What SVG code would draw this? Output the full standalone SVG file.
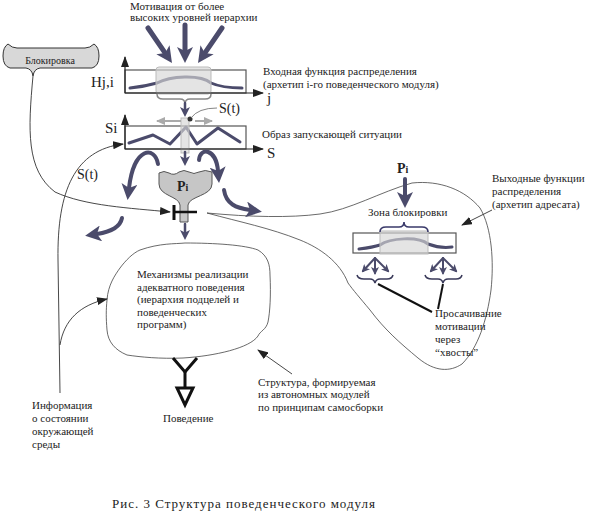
<svg xmlns="http://www.w3.org/2000/svg" width="589" height="513" viewBox="0 0 589 513" font-family="'Liberation Serif', 'Times New Roman', Times, 'DejaVu Serif', serif">
<style>
.t{font-family:'Liberation Serif','Times New Roman',Times,'DejaVu Serif',serif;font-size:11px;fill:#222}
.m{font-family:'Liberation Serif','Times New Roman',Times,'DejaVu Serif',serif;font-size:15px;fill:#222}
.box{fill:#fff;stroke:#555;stroke-width:1.2}
.shade{fill:#d6d6d6;fill-opacity:.65;stroke:#bbb;stroke-width:1}
.dk{fill:none;stroke:#4b4b6b;stroke-linecap:round}
.thin{fill:none;stroke:#333;stroke-width:0.9}
.blob{fill:none;stroke:#444;stroke-width:0.8}
.ax{fill:none;stroke:#222;stroke-width:1.2}
</style>
<defs>
<marker id="big" markerUnits="userSpaceOnUse" markerWidth="16" markerHeight="16" viewBox="0 0 16 16" refX="4" refY="8" orient="auto"><path d="M0,0 L16,8 L0,16 L4,8 z" fill="#4b4b6b"/></marker>
<marker id="med" markerUnits="userSpaceOnUse" markerWidth="10" markerHeight="10" viewBox="0 0 10 10" refX="3" refY="5" orient="auto"><path d="M0,0 L10,5 L0,10 L2.5,5 z" fill="#4b4b6b"/></marker>
<marker id="sm" markerUnits="userSpaceOnUse" markerWidth="8" markerHeight="8" viewBox="0 0 8 8" refX="6" refY="4" orient="auto"><path d="M0,0 L8,4 L0,8 L2,4 z" fill="#4b4b6b"/></marker>
<marker id="ax" markerUnits="userSpaceOnUse" markerWidth="11" markerHeight="8" viewBox="0 0 11 8" refX="10" refY="4" orient="auto"><path d="M0,0 L11,4 L0,8 z" fill="#222"/></marker>
<marker id="gr" markerUnits="userSpaceOnUse" markerWidth="9" markerHeight="8" viewBox="0 0 9 8" refX="8" refY="4" orient="auto"><path d="M0,0 L9,4 L0,8 z" fill="#aaa"/></marker>
</defs>

<g id="motivation">
<text class="t" x="130" y="10">Мотивация от более</text>
<text class="t" x="130" y="21">высоких уровней иерархии</text>
</g>

<g id="blocking-label">
<path d="M8,44 Q3,47 3,56 Q3,66 10,68 L26,68 Q32,69 33,76 Q34,69 40,68 L92,68 Q99,66 99,56 Q99,47 94,44 Q90,48 85,48 L17,48 Q12,48 8,44 Z" fill="#d8d8d8" stroke="#333" stroke-width="1"/>
<text class="t" x="50" y="64" text-anchor="middle" style="font-size:10px">Блокировка</text>
</g>

<g id="input-function">
<rect class="box" x="125" y="70" width="121" height="23"/>
<path class="dk" stroke-width="3" d="M130,88 C140,87 150,85 157,83 C170,76 200,74 211,83 C220,87 232,88 242,88"/>
<rect class="shade" x="156" y="67" width="55" height="27" rx="3"/>
<path d="M157,94 Q157,99 163,99 L180,99 Q185,99 185,104 Q185,99 190,99 L205,99 Q211,99 211,94" fill="none" stroke="#888" stroke-width="1.5"/>
<text class="m" x="91" y="87">Hj,i</text>
<text class="m" x="267" y="103">j</text>
<text class="t" x="263" y="75">Входная функция распределения</text>
<text class="t" x="263" y="88">(архетип i-го поведенческого модуля)</text>
</g>

<g id="trigger-image">
<rect class="box" x="125" y="126" width="121" height="23"/>
<polyline class="dk" stroke-width="3" stroke-linejoin="round" points="129,143 153,135 170,144 186,127 197,144 218,128 240,142"/>
<rect class="shade" x="181" y="118" width="8" height="35"/>
<text class="m" x="105" y="133">Si</text>
<text class="m" x="267" y="158">S</text>
<text class="t" x="262" y="138">Образ запускающей ситуации</text>
<circle cx="190" cy="119" r="2.5" fill="#333"/>
<text class="m" x="219" y="113" style="font-size:14px">S(t)</text>
</g>

<g id="funnel">
<path d="M159,173 Q164,170 169,173 Q174,176 179,172 Q184,169 189,172 Q194,175 199,172 Q205,169 212,172 L212,184 C212,196 189,196 188,205 L188,222 L180,222 L180,205 C179,196 159,196 159,184 Z" fill="#c6c6c6" stroke="#555" stroke-width="1"/>
<text class="m" x="177" y="191" style="font-weight:bold;font-size:14px">P<tspan style="font-size:10px">i</tspan></text>
<line x1="174" y1="205" x2="174" y2="220" stroke="#111" stroke-width="3"/>
<line x1="174" y1="212" x2="197" y2="212" stroke="#111" stroke-width="2.5"/>
</g>

<g id="mechanisms">
<path class="blob" d="M140,250 C160,243 175,244 185,243 C215,243 245,245 258,250 C268,256 270,265 270,275 C271,295 270,312 268,322 C266,330 260,331 258,336 C250,348 215,356 183,358 C160,359 140,357 127,355 C115,350 108,342 107,330 C106,318 106,310 107,300 C108,285 115,275 120,268 C126,260 133,253 140,250 Z"/>
<text class="t" x="137" y="278">Механизмы реализации</text>
<text class="t" x="137" y="291">адекватного поведения</text>
<text class="t" x="137" y="303">(иерархия подцелей и</text>
<text class="t" x="137" y="316">поведенческих</text>
<text class="t" x="137" y="328">программ)</text>
</g>

<g id="behavior">
<polyline points="173,358 185,372 197,358" fill="none" stroke="#111" stroke-width="3"/>
<line x1="185" y1="372" x2="185" y2="388" stroke="#111" stroke-width="3"/>
<polygon points="177,388 193,388 185,405" fill="#fff" stroke="#111" stroke-width="3" stroke-linejoin="miter"/>
<text class="t" x="163" y="422">Поведение</text>
</g>

<g id="output-module">
<path class="blob" d="M207,213 C250,217 290,218 320,214 C350,210 380,192 412,183 C440,180 465,190 480,208 C492,228 494,262 491,290 C487,320 478,348 462,364 C450,372 435,372 418,358 C400,343 385,330 370,310 C360,298 353,290 348,283 C340,262 320,248 300,240 C270,228 240,222 207,213"/>
<rect class="box" x="353" y="233" width="103" height="20"/>
<path class="dk" stroke-width="3" d="M359,249 C367,248 374,247 380,245 C390,238 418,236 428,244 C436,247 445,248 452,247"/>
<rect class="shade" x="380" y="231" width="48" height="23"/>
<path d="M380,232 Q380,227 386,227 L399,227 Q404,227 404,222 Q404,227 409,227 L422,227 Q428,227 428,232" fill="none" stroke="#3a3a6a" stroke-width="1.6"/>
<text class="m" x="397" y="173" style="font-weight:bold;font-size:14px">P<tspan style="font-size:10px">i</tspan></text>
<text class="t" x="368" y="216">Зона блокировки</text>
<path d="M357,275 Q358,279 364,279 L370,279 Q374,279 375,283 Q376,279 380,279 L387,279 Q392,279 393,275" fill="none" stroke="#3a3a5a" stroke-width="1.5"/>
<path d="M425,275 Q426,279 432,279 L438,279 Q442,279 443,283 Q444,279 448,279 L456,279 Q461,279 462,275" fill="none" stroke="#3a3a5a" stroke-width="1.5"/>
<line x1="378" y1="284" x2="432" y2="312" stroke="#111" stroke-width="2"/>
<line x1="443" y1="284" x2="438" y2="309" stroke="#111" stroke-width="2"/>
<text class="t" x="435" y="317">Просачивание</text>
<text class="t" x="435" y="330">мотивации</text>
<text class="t" x="435" y="343">через</text>
<text class="t" x="435" y="356">“хвосты”</text>
<text class="t" x="492" y="182">Выходные функции</text>
<text class="t" x="492" y="195">распределения</text>
<text class="t" x="492" y="208">(архетип адресата)</text>
</g>

<g id="environment">
<text class="t" x="32" y="409">Информация</text>
<text class="t" x="32" y="422">о состоянии</text>
<text class="t" x="32" y="435">окружающей</text>
<text class="t" x="32" y="448">среды</text>
</g>

<g id="structure-note">
<text class="t" x="258" y="386">Структура, формируемая</text>
<text class="t" x="258" y="398">из автономных модулей</text>
<text class="t" x="258" y="411">по принципам самосборки</text>
</g>

<g id="connectors">
<path class="dk" stroke-width="5" d="M148,28 L165.2,53.1" marker-end="url(#big)"/>
<path class="dk" stroke-width="5" d="M185,25 L185,51" marker-end="url(#big)"/>
<path class="dk" stroke-width="5" d="M222,28 L204.8,53.1" marker-end="url(#big)"/>
<line class="ax" x1="125" y1="93" x2="125" y2="57" marker-end="url(#ax)"/>
<line class="ax" x1="125" y1="93" x2="263" y2="93" marker-end="url(#ax)"/>
<line class="ax" x1="125" y1="149" x2="125" y2="115" marker-end="url(#ax)"/>
<line class="ax" x1="125" y1="149" x2="263" y2="149" marker-end="url(#ax)"/>
<path class="dk" stroke-width="2.5" d="M185,103 L185,110" marker-end="url(#med)"/>
<line x1="181" y1="121" x2="157" y2="121" stroke="#aaa" stroke-width="2" marker-end="url(#gr)"/>
<line x1="195" y1="121" x2="212" y2="121" stroke="#aaa" stroke-width="2" marker-end="url(#gr)"/>
<path d="M191,118 Q198,108 217,108" fill="none" stroke="#777" stroke-width="0.9"/>
<path class="dk" stroke-width="2.5" d="M185,152 L185,159" marker-end="url(#med)"/>
<path class="dk" stroke-width="2.5" d="M185,224 L185,233" marker-end="url(#med)"/>
<path class="dk" stroke-width="4" d="M158,164 C155,146 134,146 129,188" marker-end="url(#big)"/>
<path class="dk" stroke-width="4" d="M199,160 C200,147 216,148 218,171" marker-end="url(#big)"/>
<path class="dk" stroke-width="4" d="M224,190 C226,204 236,208 250,210" marker-end="url(#big)"/>
<path class="dk" stroke-width="4" d="M122,218 C120,228 110,232 97,234" marker-end="url(#big)"/>
<path class="dk" stroke-width="4" d="M405,179 L405,196" marker-end="url(#big)"/>
<path class="dk" stroke-width="2" d="M375,258 L363,271" marker-end="url(#sm)"/>
<path class="dk" stroke-width="2" d="M375,258 L375,273" marker-end="url(#sm)"/>
<path class="dk" stroke-width="2" d="M375,258 L388,271" marker-end="url(#sm)"/>
<path class="dk" stroke-width="2" d="M443,258 L431,271" marker-end="url(#sm)"/>
<path class="dk" stroke-width="2" d="M443,258 L443,273" marker-end="url(#sm)"/>
<path class="dk" stroke-width="2" d="M443,258 L456,271" marker-end="url(#sm)"/>
<path class="thin" d="M33,76 C28,130 26,170 55,192 C85,206 130,208 170,212" marker-end="url(#ax)"/>
<path class="thin" d="M60,393 L58,260 C57,190 75,150 123,144" marker-end="url(#ax)"/>
<path class="thin" d="M60,345 C64,320 80,305 107,299" marker-end="url(#ax)"/>
<path class="thin" stroke-width="1.3" d="M292,374 L258,350" marker-end="url(#ax)"/>
<path class="thin" d="M492,210 L462,225" marker-end="url(#ax)"/>
<text class="m" x="77" y="179" style="font-size:14px">S(t)</text>
</g>

<g id="caption">
<text class="t" x="112" y="508" style="font-size:13px" textLength="263" lengthAdjust="spacing">Рис. 3  Структура поведенческого модуля</text>
</g>
</svg>
